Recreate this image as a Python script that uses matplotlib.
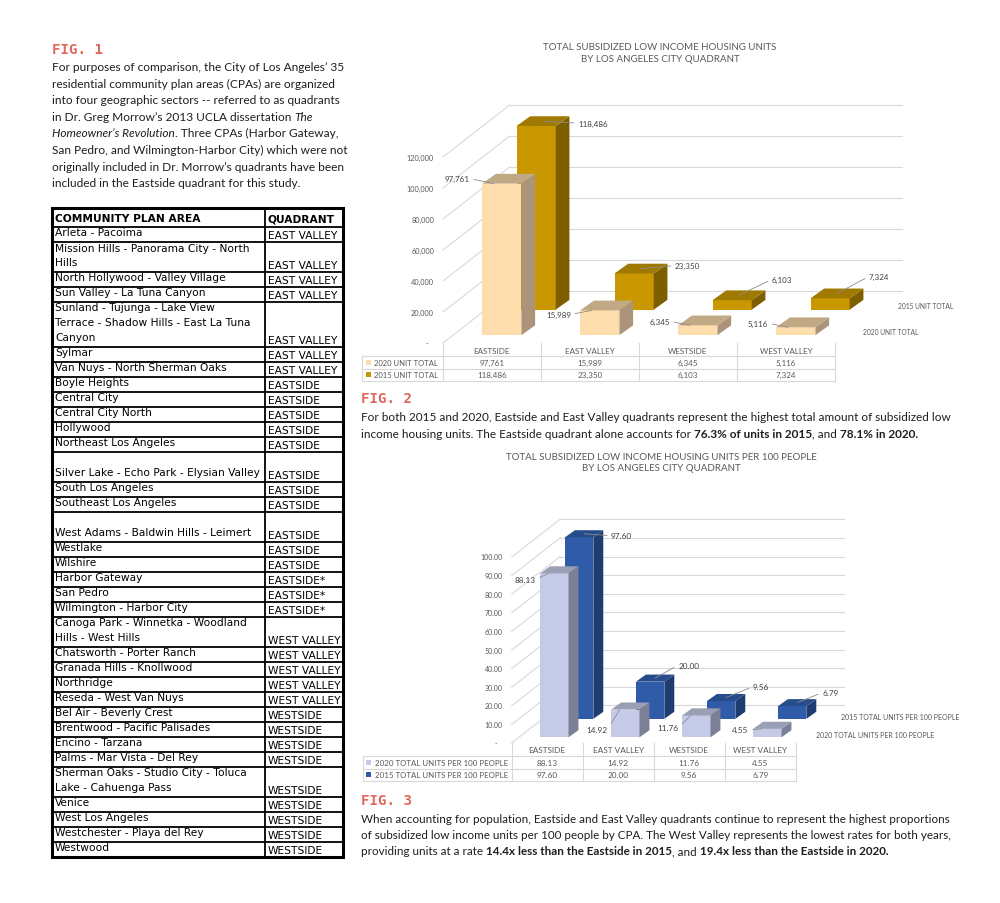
import matplotlib
matplotlib.use('Agg')
import matplotlib.pyplot as plt
from matplotlib.patches import Polygon, Rectangle
import numpy as np

plt.rcParams['font.family'] = ['Lato', 'DejaVu Sans']

# ---------------- data ----------------
QUADRANTS = ['EASTSIDE', 'EAST VALLEY', 'WESTSIDE', 'WEST VALLEY']

UNITS_2020 = [97761, 15989, 6345, 5116]
UNITS_2015 = [118486, 23350, 6103, 7324]
UNIT_TICKS = [0, 20000, 40000, 60000, 80000, 100000, 120000]
UNIT_ROWS = ['2020 UNIT TOTAL', '2015 UNIT TOTAL']

RATE_2020 = [88.13, 14.92, 11.76, 4.55]
RATE_2015 = [97.60, 20.00, 9.56, 6.79]
RATE_TICKS = [0, 10, 20, 30, 40, 50, 60, 70, 80, 90, 100]
RATE_ROWS = ['2020 TOTAL UNITS PER 100 PEOPLE', '2015 TOTAL UNITS PER 100 PEOPLE']

CPA_NAMES = [
    ['Arleta - Pacoima'],
    ['Mission Hills - Panorama City - North', 'Hills'],
    ['North Hollywood - Valley Village'],
    ['Sun Valley - La Tuna Canyon'],
    ['Sunland - Tujunga - Lake View', 'Terrace - Shadow Hills - East La Tuna', 'Canyon'],
    ['Sylmar'],
    ['Van Nuys - North Sherman Oaks'],
    ['Boyle Heights'],
    ['Central City'],
    ['Central City North'],
    ['Hollywood'],
    ['Northeast Los Angeles'],
    ['', 'Silver Lake - Echo Park - Elysian Valley'],
    ['South Los Angeles'],
    ['Southeast Los Angeles'],
    ['', 'West Adams - Baldwin Hills - Leimert'],
    ['Westlake'],
    ['Wilshire'],
    ['Harbor Gateway'],
    ['San Pedro'],
    ['Wilmington - Harbor City'],
    ['Canoga Park - Winnetka - Woodland', 'Hills - West Hills'],
    ['Chatsworth - Porter Ranch'],
    ['Granada Hills - Knollwood'],
    ['Northridge'],
    ['Reseda - West Van Nuys'],
    ['Bel Air - Beverly Crest'],
    ['Brentwood - Pacific Palisades'],
    ['Encino - Tarzana'],
    ['Palms - Mar Vista - Del Rey'],
    ['Sherman Oaks - Studio City - Toluca', 'Lake - Cahuenga Pass'],
    ['Venice'],
    ['West Los Angeles'],
    ['Westchester - Playa del Rey'],
    ['Westwood'],
]
CPA_QUADRANTS = (['EAST VALLEY'] * 7 + ['EASTSIDE'] * 11 + ['EASTSIDE*'] * 3
                 + ['WEST VALLEY'] * 5 + ['WESTSIDE'] * 9)

N = ('normal', 'normal')
I = ('normal', 'italic')
B = ('bold', 'normal')

FIG1_TEXT = [
    [("For purposes of comparison, the City of Los Angeles\u2019 35", N)],
    [("residential community plan areas (CPAs) are organized", N)],
    [("into four geographic sectors -- referred to as quadrants", N)],
    [("in Dr. Greg Morrow\u2019s 2013 UCLA dissertation ", N), ("The", I)],
    [("Homeowner\u2019s Revolution", I), (". Three CPAs (Harbor Gateway,", N)],
    [("San Pedro, and Wilmington-Harbor City) which were not", N)],
    [("originally included in Dr. Morrow\u2019s quadrants have been", N)],
    [("included in the Eastside quadrant for this study.", N)],
]
FIG2_TEXT = [
    [("For both 2015 and 2020, Eastside and East Valley quadrants represent the highest total amount of subsidized low", N)],
    [("income housing units. The Eastside quadrant alone accounts for ", N), ("76.3% of units in 2015", B),
     (", and ", N), ("78.1% in 2020.", B)],
]
FIG3_TEXT = [
    [("When accounting for population, Eastside and East Valley quadrants continue to represent the highest proportions", N)],
    [("of subsidized low income units per 100 people by CPA. The West Valley represents the lowest rates for both years,", N)],
    [("providing units at a rate ", N), ("14.4x less than the Eastside in 2015", B), (", and ", N),
     ("19.4x less than the Eastside in 2020.", B)],
]

# ---------------- setup ----------------
W, H = 1000, 904
fig = plt.figure(figsize=(W / 100, H / 100), dpi=100)
renderer = fig.canvas.get_renderer()

page = fig.add_axes([0, 0, 1, 1])
page.set_xlim(0, W)
page.set_ylim(H, 0)
page.axis('off')

RED = '#e0675a'
GREY = '#595959'
GRID = '#d9d9d9'
LEAD = '#8c8c8c'


def text_width(s, size=10, **kw):
    t = fig.text(0, 0, '|' + s + '|', fontsize=size, **kw)
    a = t.get_window_extent(renderer).width
    t.set_text('||')
    b = t.get_window_extent(renderer).width
    t.remove()
    return a - b


def fit_size(s, width, **kw):
    return 10 * width / text_width(s, 10, **kw)


def runs_width(runs, size, family):
    return sum(text_width(s, size, fontweight=w, fontstyle=st, family=family) for s, (w, st) in runs)


def draw_runs(x, y, runs, size, family='Lato', color='#1e1e1e'):
    for s, (w, st) in runs:
        page.text(x, y, s, fontsize=size, fontweight=w, fontstyle=st, family=family,
                  color=color, ha='left', va='baseline')
        x += text_width(s, size, fontweight=w, fontstyle=st, family=family)


def caption(x, y_label, label, lines, y0, dy, fit_line, fit_w):
    fs = fit_size(label, 51, family='DejaVu Sans Mono', fontweight='bold')
    page.text(x, y_label, label, fontsize=fs, family='DejaVu Sans Mono', fontweight='bold',
              color=RED, ha='left', va='center')
    size = 10 * fit_w / runs_width(lines[fit_line], 10, 'Lato')
    for k, runs in enumerate(lines):
        draw_runs(x, y0 + k * dy + 0.33 * size * 100 / 72, runs, size)


caption(52, 50, 'FIG. 1', FIG1_TEXT, 67, 16.6, 0, 291)
caption(361, 399, 'FIG. 2', FIG2_TEXT, 417, 16.8, 0, 587)
caption(361, 801, 'FIG. 3', FIG3_TEXT, 819, 16.2, 1, 588)

# ---------------- CPA table ----------------
TX0, TXD, TX1 = 52, 265, 343
TY0, THB, LINE_H = 209, 228, 15
tfam = 'DejaVu Sans'
tsize = fit_size('Mission Hills - Panorama City - North', 193, family=tfam)
hsize = tsize * 1.0
page.text(55, (TY0 + THB) / 2 + 0.5, 'COMMUNITY PLAN AREA', fontsize=hsize, family=tfam,
          fontweight='bold', va='center', ha='left')
page.text(TXD + 3, (TY0 + THB) / 2 + 0.5, 'QUADRANT', fontsize=hsize, family=tfam,
          fontweight='bold', va='center', ha='left')
y = THB
page.plot([TX0, TX1], [y, y], color='black', lw=1.3)
for names, quad in zip(CPA_NAMES, CPA_QUADRANTS):
    for k, nm in enumerate(names):
        page.text(55, y + k * LINE_H + 5.5, nm, fontsize=tsize, family=tfam, va='center', ha='left')
    y_b = y + LINE_H * len(names)
    page.text(TXD + 3, y_b - 7.3, quad, fontsize=tsize, family=tfam, va='center', ha='left')
    page.plot([TX0, TX1], [y_b, y_b], color='black', lw=1.3)
    y = y_b
page.plot([TXD, TXD], [TY0, y], color='black', lw=1.3)
page.add_patch(Rectangle((TX0, TY0), TX1 - TX0, y - TY0, fill=False, ec='black', lw=2.2))

# ---------------- pseudo-3D column charts ----------------
ROW_FRONT = (0.10, 0.08)
ROW_BACK = (0.45, 0.34)
WALL = (0.68, 0.53)
BAR_W = 0.40
SIDE = (0.14, 0.10)


def draw_chart(left, floor, top, P, ppv, front_vals, back_vals, ticks, fmt, front_cols, back_cols,
               row_names, legend_w, offs_front, offs_back, sizes):
    ax = fig.add_axes([left / W, (H - floor) / H, 5 * P / W, (floor - top) / H])
    ax.set_xlim(-0.5, 4.5)
    ax.set_ylim(0, (floor - top) / ppv)
    ax.axis('off')
    k = P / ppv          # value units per category unit (vertical depth)
    tick_fs, lab_fs, tab_fs, leg_fs, ser_fs = sizes

    # walls
    for t in ticks:
        wy = t + WALL[1] * k
        ax.plot([-0.5, -0.5 + WALL[0]], [t, wy], color=GRID, lw=0.8, zorder=0, clip_on=False)
        ax.plot([-0.5 + WALL[0], 3.5 + WALL[0]], [wy, wy], color=GRID, lw=0.8, zorder=0, clip_on=False)
        ax.text(-0.5 - 9 / P, t, fmt(t) if t else '-   ', fontsize=tick_fs, color=GREY,
                ha='right', va='center')

    # bars: back row first, then front row
    rows = [(back_vals, ROW_BACK, back_cols, offs_back, 'R', 1),
            (front_vals, ROW_FRONT, front_cols, offs_front, 'L', 2)]
    for vals, (dx, dy), (cf, cs, ct), offs, side, z in rows:
        xs = np.arange(len(vals)) + dx
        base = dy * k
        ax.bar(xs, vals, BAR_W, bottom=base, color=cf, lw=0, zorder=z)
        sx, sy = SIDE[0], SIDE[1] * k
        for xi, v, off in zip(xs, vals, offs):
            x0, x1 = xi - BAR_W / 2, xi + BAR_W / 2
            ax.add_patch(Polygon([(x1, base), (x1 + sx, base + sy), (x1 + sx, base + v + sy), (x1, base + v)],
                                 closed=True, fc=cs, lw=0, zorder=z))
            ax.add_patch(Polygon([(x0, base + v), (x1, base + v), (x1 + sx, base + v + sy), (x0 + sx, base + v + sy)],
                                 closed=True, fc=ct, lw=0, zorder=z))
            if side == 'L':
                xy, ha, rel = (x0 + 0.3 * BAR_W, base + v), 'right', (1, 0.5)
            else:
                xy, ha, rel = (xi + sx / 2, base + v + sy / 2), 'left', (0, 0.5)
            ax.annotate(fmt(v), xy=xy, xytext=off, textcoords='offset pixels', ha=ha, va='center',
                        fontsize=lab_fs, color='#404040', zorder=5, annotation_clip=False,
                        arrowprops=dict(arrowstyle='-', color=LEAD, lw=0.6, shrinkA=1, shrinkB=0,
                                        relpos=rel))
        # depth axis label at right
        ax.text(3.69 + dx, base + 0.04 * k, row_names[0 if side == 'L' else 1], fontsize=ser_fs,
                color=GREY, ha='left', va='center')

    # data table
    hdr, rh = 13, 12.5
    yv = lambda px: -px / ppv
    x_leg = -0.5 - legend_w / P
    for xb in [-0.5, 0.5, 1.5, 2.5, 3.5]:
        ax.plot([xb, xb], [0, yv(hdr + 2 * rh)], color=GRID, lw=0.8, clip_on=False)
    ax.plot([x_leg, x_leg], [yv(hdr), yv(hdr + 2 * rh)], color=GRID, lw=0.8, clip_on=False)
    for yy in [hdr, hdr + rh, hdr + 2 * rh]:
        ax.plot([x_leg, 3.5], [yv(yy), yv(yy)], color=GRID, lw=0.8, clip_on=False)
    for i, q in enumerate(QUADRANTS):
        ax.text(i, yv(hdr / 2 + 0.5), q, fontsize=tab_fs, color=GREY, ha='center', va='center')
    for r, (name, vals, col) in enumerate([(row_names[0], front_vals, front_cols[0]),
                                           (row_names[1], back_vals, back_cols[0])]):
        yc = yv(hdr + rh * (r + 0.5))
        ax.add_patch(Rectangle((x_leg + 3.5 / P, yc - 2.5 / ppv), 5 / P, 5 / ppv, fc=col, lw=0,
                               clip_on=False))
        ax.text(x_leg + 12 / P, yc, name, fontsize=leg_fs, color=GREY, ha='left', va='center')
        for i, v in enumerate(vals):
            ax.text(i, yc, fmt(v), fontsize=tab_fs, color=GREY, ha='center', va='center')
    return ax


def chart_title(cx, y1, y2, l1, l2, w1):
    fs = fit_size(l1, w1)
    page.text(cx, y1, l1, fontsize=fs, color=GREY, ha='center', va='center')
    page.text(cx, y2, l2, fontsize=fs, color=GREY, ha='center', va='center')


fmt_units = lambda v: '{:,}'.format(int(v))
fmt_rate = lambda v: '{:.2f}'.format(v)

chart_title(660, 47, 60, 'TOTAL SUBSIDIZED LOW INCOME HOUSING UNITS', 'BY LOS ANGELES CITY QUADRANT', 232)
sizes1 = (fit_size('100,000', 27), fit_size('118,486', 30), fit_size('EAST VALLEY', 49),
          fit_size('2020 UNIT TOTAL', 64), fit_size('2015 UNIT TOTAL', 55))
draw_chart(443, 344, 90, 98, 31 / 20000, UNITS_2020, UNITS_2015, UNIT_TICKS, fmt_units,
           ('#fcddab', '#ab9479', '#c2a985'), ('#c99800', '#7d5f00', '#a07a00'),
           UNIT_ROWS, 81,
           [(-24, 5), (-21, -4), (-20, 4), (-20, 4)],
           [(35, -2), (34, 3), (33, 16), (32, 17)], sizes1)

chart_title(661, 458, 469, 'TOTAL SUBSIDIZED LOW INCOME HOUSING UNITS PER 100 PEOPLE',
            'BY LOS ANGELES CITY QUADRANT', 312)
sizes2 = (fit_size('100.00', 22), fit_size('88.13', 21), fit_size('EAST VALLEY', 51),
          fit_size('2020 TOTAL UNITS PER 100 PEOPLE', 132), fit_size('2015 TOTAL UNITS PER 100 PEOPLE', 118))
draw_chart(511.7, 744, 505, 71, 1.86, RATE_2020, RATE_2015, RATE_TICKS, fmt_rate,
           ('#c5cae6', '#7c8097', '#9a9fb5'), ('#2f5ba8', '#1f3c70', '#264c8c'),
           RATE_ROWS, 149,
           [(-13, -6), (-12, -20), (-12, -12), (-13, -1)],
           [(27, -2), (23, 13), (27, 11), (25, 10)], sizes2)

fig.savefig('out.png', dpi=100, facecolor='white')
